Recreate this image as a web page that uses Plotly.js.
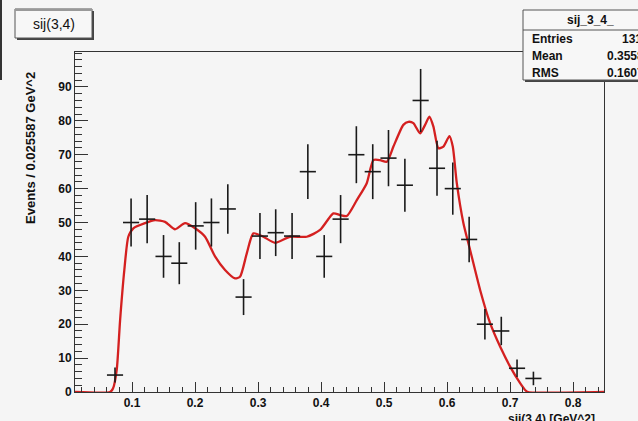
<!DOCTYPE html>
<html><head><meta charset="utf-8">
<script src="https://cdn.plot.ly/plotly-3.0.1.min.js"></script>
<style>html,body{margin:0;padding:0;background:#f5f5f5;}#c{width:638px;height:421px;}</style>
</head><body><div id="c"></div>
<script>
// Histogram bin centres (GeV^2) and counts
const binCenters = [0.073, 0.0985, 0.124, 0.150, 0.175, 0.201, 0.226, 0.252, 0.277, 0.303, 0.328, 0.354, 0.379, 0.405, 0.431, 0.456, 0.482, 0.507, 0.533, 0.558, 0.584, 0.609, 0.635, 0.660, 0.686, 0.711, 0.737];
const counts = [5, 50, 51, 40, 38, 49, 50, 54, 28, 46, 47, 46, 65, 40, 51, 70, 65, 69, 61, 86, 66, 60, 45, 20, 18, 7, 4];
const errors = [2.2, 7.1, 7.1, 6.3, 6.2, 7.0, 7.1, 7.3, 5.3, 6.8, 6.9, 6.8, 8.1, 6.3, 7.1, 8.4, 8.1, 8.3, 7.8, 9.3, 8.1, 7.7, 6.7, 4.5, 4.2, 2.6, 2.0];
const halfBin = 0.0128;

// Red curve
const curveX = [0.0095, 0.0651, 0.0698, 0.0757, 0.081, 0.0878, 0.0941, 0.1021, 0.1206, 0.1365, 0.1524, 0.1683, 0.1841, 0.2, 0.2159, 0.2317, 0.2476, 0.2635, 0.2714, 0.2821, 0.2925, 0.3084, 0.327, 0.3508, 0.3773, 0.3984, 0.4195, 0.4302, 0.4408, 0.4567, 0.4725, 0.483, 0.4937, 0.5043, 0.5148, 0.5306, 0.5386, 0.5465, 0.5571, 0.5651, 0.5719, 0.5783, 0.5862, 0.5941, 0.6037, 0.609, 0.6154, 0.6259, 0.6365, 0.6524, 0.6683, 0.6841, 0.7, 0.7159, 0.7238, 0.7286, 0.849];
const curveY = [0, 0, 1, 6.5, 21, 36, 45.8, 48.3, 49.8, 50.7, 50.2, 48, 49.8, 48.3, 45.8, 40, 36, 33.5, 34, 40.9, 46.8, 45.8, 44, 45.8, 45.8, 47.8, 52.7, 52.2, 51.9, 56.6, 61.6, 68.4, 68.4, 67.9, 72.4, 78.8, 79.7, 79.3, 76.3, 78.8, 81.2, 78.3, 71.9, 72.4, 75.5, 72.4, 61.6, 49.8, 41.9, 30.1, 20.3, 13.4, 7.5, 2.6, 0.6, 0, 0];

const histName = "sij(3,4)";
const statsTitle = "sij_3_4_";
const statsLabels = ["Entries", "Mean", "RMS"];
const statsValues = ["1318", "0.3558", "0.1607"];
const yTickVals = [0, 10, 20, 30, 40, 50, 60, 70, 80, 90];

// plot area in pixels: x 75..604, y 52..392
const PL = 75, PR = 604, PT = 52, PB = 392;
const px = v => (v - PL) / (PR - PL);
const py = v => (PB - v) / (PB - PT);

const fam = "Liberation Sans, Arial, sans-serif";
const tf = {family: fam, size: 12, color: "#111", weight: "bold"};

const traces = [
  {x: curveX, y: curveY, mode: "lines", line: {color: "#d42020", width: 2.3, shape: "spline", smoothing: 0.6}, hoverinfo: "skip"},
  {x: binCenters, y: counts, mode: "markers", marker: {size: 1, color: "#111"},
   error_y: {type: "data", array: errors, visible: true, color: "#1a1a1a", thickness: 1.6, width: 0},
   error_x: {type: "constant", value: halfBin, visible: true, color: "#1a1a1a", thickness: 1.6, width: 0}}
];

const shapes = [
  {type: "line", xref: "paper", yref: "paper", x0: px(1), x1: px(1), y0: py(0), y1: py(80), line: {color: "#333", width: 2}},
  // title box shadow + box
  {type: "rect", xref: "paper", yref: "paper", x0: px(17), x1: px(94), y0: py(11), y1: py(40), fillcolor: "#444", line: {width: 0}},
  {type: "rect", xref: "paper", yref: "paper", x0: px(15), x1: px(92), y0: py(9), y1: py(38), fillcolor: "#f7f7f7", line: {color: "#555", width: 1}},
  {type: "line", xref: "paper", yref: "paper", x0: px(15), x1: px(92), y0: py(10), y1: py(10), line: {color: "#999", width: 2}},
  // stats box shadow + box
  {type: "rect", xref: "paper", yref: "paper", x0: px(525), x1: px(660), y0: py(12), y1: py(82), fillcolor: "#444", line: {width: 0}},
  {type: "rect", xref: "paper", yref: "paper", x0: px(523), x1: px(660), y0: py(10), y1: py(80), fillcolor: "#f7f7f7", line: {color: "#555", width: 1}},
  {type: "line", xref: "paper", yref: "paper", x0: px(523), x1: px(660), y0: py(30), y1: py(30), line: {color: "#555", width: 1}}
];

const annotations = [
  {xref: "paper", yref: "paper", x: px(53.5), y: py(23.5), text: histName, showarrow: false, xanchor: "center", yanchor: "middle", font: {family: fam, size: 14, color: "#111"}},
  {xref: "paper", yref: "paper", x: px(590), y: py(20), text: statsTitle, showarrow: false, xanchor: "center", yanchor: "middle", font: tf},
  {xref: "paper", yref: "paper", x: px(30), y: py(148), text: "Events / 0.025587 GeV^2", textangle: -90, showarrow: false, xanchor: "center", yanchor: "middle", font: {family: fam, size: 13, color: "#111", weight: "bold"}},
  {xref: "paper", yref: "paper", x: px(597), y: py(410), text: "sij(3,4) [GeV^2]", showarrow: false, xanchor: "right", yanchor: "top", font: tf}
];
const rowY = [39, 56, 73];
const valX = [620, 605, 605];
for (let i = 0; i < statsLabels.length; i++) {
  annotations.push({xref: "paper", yref: "paper", x: px(530), y: py(rowY[i]), text: statsLabels[i], showarrow: false, xanchor: "left", yanchor: "middle", font: tf});
  annotations.push({xref: "paper", yref: "paper", x: px(valX[i]), y: py(rowY[i]), text: statsValues[i], showarrow: false, xanchor: "left", yanchor: "middle", font: tf});
}

const layout = {
  width: 638, height: 421,
  margin: {l: PL, r: 638 - PR, t: PT, b: 421 - PB, pad: 0},
  paper_bgcolor: "#f5f5f5", plot_bgcolor: "#f5f5f5",
  showlegend: false,
  xaxis: {range: [0.0095, 0.849], tick0: 0, dtick: 0.1, ticks: "inside", ticklen: 10, tickwidth: 1, tickcolor: "#333",
          minor: {dtick: 0.02, ticks: "inside", ticklen: 5, tickcolor: "#333"},
          showgrid: false, zeroline: false, showline: true, linecolor: "#333", linewidth: 1, mirror: true,
          tickfont: {family: fam, size: 12, color: "#111", weight: "bold"}},
  yaxis: {range: [0, 100.3], tickmode: "array", tickvals: yTickVals, ticks: "inside", ticklen: 13, tickwidth: 1, tickcolor: "#333",
          minor: {tick0: 0, dtick: 2, ticks: "inside", ticklen: 7, tickcolor: "#333"},
          showgrid: false, zeroline: false, showline: true, linecolor: "#333", linewidth: 1, mirror: true,
          tickfont: {family: fam, size: 12, color: "#111", weight: "bold"}},
  shapes: shapes,
  annotations: annotations
};

Plotly.newPlot("c", traces, layout, {staticPlot: true, displayModeBar: false});
</script>
</body></html>
